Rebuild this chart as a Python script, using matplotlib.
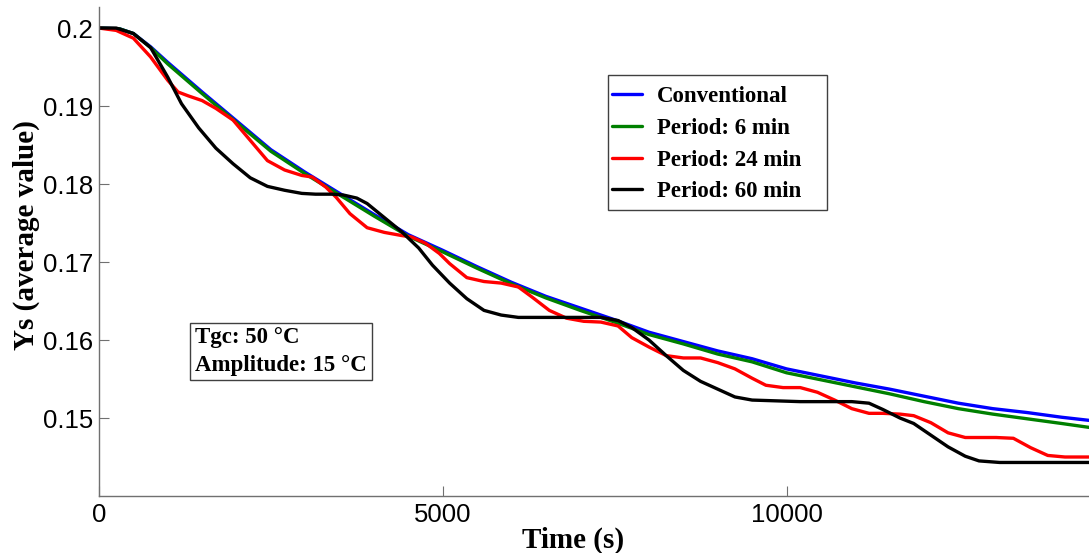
import matplotlib
matplotlib.use('Agg')
import matplotlib.pyplot as plt
from matplotlib.patches import Rectangle

# ---------------- data ----------------
t_conv = [0, 300, 500, 750, 1000, 1250, 1500, 2000, 2500, 3000, 3500, 4000, 4500,
          5000, 5500, 6000, 6500, 7000, 7500, 8000, 8500, 9000, 9500, 10000, 10500,
          11000, 11500, 12000, 12500, 13000, 13500, 14000, 14400]
y_conv = [0.2000, 0.1999, 0.1993, 0.1976, 0.1956, 0.1937, 0.1918, 0.1881, 0.1844,
          0.1815, 0.1788, 0.1761, 0.1735, 0.1715, 0.1694, 0.1674, 0.1656, 0.1641,
          0.1626, 0.1610, 0.1598, 0.1586, 0.1576, 0.1563, 0.1554, 0.1545, 0.1537,
          0.1528, 0.1519, 0.1512, 0.1507, 0.1501, 0.1497]

t_p6 = t_conv
y_p6 = [0.2000, 0.1999, 0.1993, 0.1975, 0.1954, 0.1935, 0.1916, 0.1879, 0.1842,
        0.1813, 0.1786, 0.1759, 0.1733, 0.1713, 0.1692, 0.1672, 0.1654, 0.1638,
        0.1623, 0.1607, 0.1595, 0.1582, 0.1572, 0.1558, 0.1549, 0.1540, 0.1531,
        0.1521, 0.1512, 0.1505, 0.1499, 0.1493, 0.1488]

t_p24 = [0, 250, 500, 750, 1000, 1150, 1300, 1500, 1700, 1950, 2200, 2450, 2700,
         2950, 3100, 3300, 3450, 3650, 3900, 4150, 4400, 4550, 4750, 4950, 5100,
         5350, 5600, 5850, 6100, 6300, 6550, 6800, 7050, 7300, 7550, 7750, 8000,
         8250, 8500, 8750, 9000, 9250, 9500, 9700, 9950, 10200, 10450, 10700, 10950,
         11200, 11400, 11650, 11850, 12100, 12350, 12600, 13050, 13300, 13550, 13800,
         14050, 14400]
y_p24 = [0.2000, 0.1997, 0.1987, 0.1963, 0.1933, 0.1918, 0.1913, 0.1907, 0.1897,
         0.1882, 0.1856, 0.1830, 0.1818, 0.1811, 0.1809, 0.1796, 0.1783, 0.1762,
         0.1744, 0.1738, 0.1734, 0.1732, 0.1724, 0.1711, 0.1698, 0.1680, 0.1675,
         0.1673, 0.1668, 0.1655, 0.1638, 0.1628, 0.1624, 0.1623, 0.1618, 0.1603,
         0.1591, 0.1580, 0.1577, 0.1577, 0.1571, 0.1563, 0.1551, 0.1542, 0.1539,
         0.1539, 0.1533, 0.1523, 0.1512, 0.1506, 0.1506, 0.1505, 0.1503, 0.1494,
         0.1481, 0.1475, 0.1475, 0.1474, 0.1462, 0.1452, 0.1450, 0.1450]

t_p60 = [0, 250, 500, 750, 1000, 1200, 1450, 1700, 1950, 2200, 2450, 2700, 2950,
         3150, 3400, 3550, 3750, 3900, 4150, 4400, 4650, 4850, 5100, 5350, 5600,
         5850, 6100, 6550, 7300, 7550, 7750, 8000, 8250, 8500, 8750, 9000, 9250,
         9500, 10200, 10950, 11200, 11400, 11650, 11850, 12100, 12350, 12600, 12800,
         13100, 14400]
y_p60 = [0.2000, 0.2000, 0.1993, 0.1975, 0.1937, 0.1903, 0.1872, 0.1846, 0.1826,
         0.1808, 0.1797, 0.1792, 0.1788, 0.1787, 0.1787, 0.1786, 0.1782, 0.1775,
         0.1757, 0.1739, 0.1718, 0.1696, 0.1673, 0.1653, 0.1638, 0.1632, 0.1629,
         0.1629, 0.1629, 0.1625, 0.1616, 0.1600, 0.1580, 0.1561, 0.1547, 0.1537,
         0.1527, 0.1523, 0.1521, 0.1521, 0.1519, 0.1511, 0.1500, 0.1493, 0.1478,
         0.1463, 0.1451, 0.1445, 0.1443, 0.1443]

series_labels = ['Conventional', 'Period: 6 min', 'Period: 24 min', 'Period: 60 min']
series_colors = ['#0000ff', '#008000', '#ff0000', '#000000']

x_ticks = [0, 5000, 10000]
x_ticklabels = ['0', '5000', '10000']
y_ticks = [0.15, 0.16, 0.17, 0.18, 0.19, 0.20]
y_ticklabels = ['0.15', '0.16', '0.17', '0.18', '0.19', '0.2']

info_lines = ['Tgc: 50 \u00b0C', 'Amplitude: 15 \u00b0C']

# ---------------- figure ----------------
W, H = 1089, 553
fig = plt.figure(figsize=(W / 100, H / 100), dpi=100)
ax = fig.add_axes([99 / W, (H - 496) / H, 990 / W, (496 - 7) / H])

serif = 'Liberation Serif'
sans = 'Liberation Sans'

data = [(t_conv, y_conv), (t_p6, y_p6), (t_p24, y_p24), (t_p60, y_p60)]
handles = []
for (t, y), lab, col in zip(data, series_labels, series_colors):
    h, = ax.plot(t, y, color=col, lw=2.4, label=lab,
                 solid_joinstyle='round', solid_capstyle='round')
    handles.append(h)

ax.set_xlim(0, 14400)
ax.set_ylim(0.14, 0.2027)
ax.set_xticks(x_ticks)
ax.set_xticklabels(x_ticklabels)
ax.set_yticks(y_ticks)
ax.set_yticklabels(y_ticklabels)

for s in ['top', 'right']:
    ax.spines[s].set_visible(False)
for s in ['left', 'bottom']:
    ax.spines[s].set_color('#707070')
    ax.spines[s].set_linewidth(1.0)

ax.tick_params(direction='in', length=7.2, width=0.8, color='#707070',
               labelcolor='black', labelsize=18.5)
ax.tick_params(axis='y', pad=4.3)
ax.tick_params(axis='x', pad=5)
for lab in ax.get_xticklabels() + ax.get_yticklabels():
    lab.set_fontfamily(sans)

ax.set_xlabel('Time (s)', fontfamily=serif, fontweight='bold', fontsize=21,
              va='center')
ax.xaxis.set_label_coords((573 - 99) / 990, (496 - 540) / 489)
ax.set_ylabel('Ys (average value)', fontfamily=serif, fontweight='bold',
              fontsize=21, va='center')
ax.yaxis.set_label_coords((26 - 99) / 990, (496 - 235) / 489)

# legend (frame drawn separately)
leg = ax.legend(handles=handles, loc='upper left',
                bbox_to_anchor=((612 - 99) / 990, (496 - 86) / 489),
                frameon=False, borderpad=0, borderaxespad=0,
                handlelength=1.3, handletextpad=0.65, labelspacing=0.47,
                prop=dict(family=serif, weight='bold', size=16.5))
ax.add_patch(Rectangle(((608 - 99) / 990, (496 - 210) / 489),
                       (827 - 608) / 990, (210 - 75) / 489,
                       transform=ax.transAxes, fill=False,
                       edgecolor='#404040', lw=1.0, zorder=5, clip_on=False))

# info box
ax.add_patch(Rectangle(((190 - 99) / 990, (496 - 380) / 489),
                       (372 - 190) / 990, (380 - 323) / 489,
                       transform=ax.transAxes, facecolor='white',
                       edgecolor='#404040', lw=1.0, zorder=5, clip_on=False))
for i, line in enumerate(info_lines):
    ax.text((195 - 99) / 990, (496 - (338 + 27 * i)) / 489, line,
            transform=ax.transAxes, ha='left', va='center',
            fontfamily=serif, fontweight='bold', fontsize=16.5, zorder=6)

fig.savefig('out.png', dpi=100)
